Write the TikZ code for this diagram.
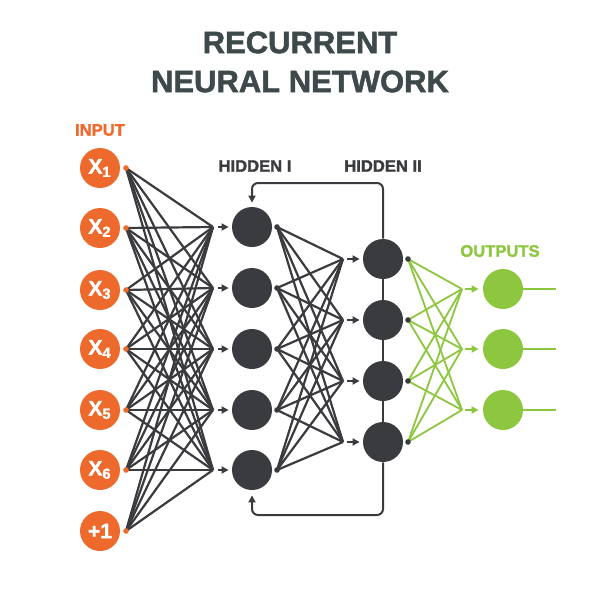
\documentclass[tikz,border=0pt]{standalone}
\usepackage{fontspec}
\setmainfont{Liberation Sans}[BoldFeatures={FakeBold=1.6}]
\usetikzlibrary{arrows.meta}
\definecolor{rnnorange}{HTML}{EE6A2C}
\definecolor{rnngreen}{HTML}{8DC63F}
\definecolor{rnndark}{HTML}{3A3B3E}
\definecolor{rnntitle}{HTML}{3E494B}
\tikzstyle{inputnode} = [circle, fill=rnnorange, minimum size=20pt, inner sep=0pt,
    text=white, font=\fontsize{10.5}{10.5}\selectfont\bfseries]
\tikzstyle{hiddennode} = [circle, fill=rnndark, minimum size=20pt, inner sep=0pt]
\tikzstyle{outputnode} = [circle, fill=rnngreen, minimum size=20pt, inner sep=0pt]
\tikzstyle{layertitle} = [font=\fontsize{8.3}{10}\selectfont\bfseries, inner sep=0pt]
\tikzstyle{wire} = [draw=rnndark, line width=1.1pt]
\tikzstyle{gwire} = [draw=rnngreen, line width=0.9pt]
\tikzstyle{feed} = [-{Triangle[length=3.5pt,width=3.5pt]}, line width=1pt]

\begin{document}
\begin{tikzpicture}[x=0.5pt, y=-0.5pt]
  \useasboundingbox (0,0) rectangle (600,600);
  \node[font=\fontsize{15.5}{19.5}\selectfont\bfseries, text=rnntitle, align=center] (title) at (300,62) {RECURRENT\\NEURAL NETWORK};
  \node[layertitle, text=rnnorange] (intitle) at (100,130) {INPUT};
  \node[layertitle, text=rnndark] (htitle1) at (255,166) {HIDDEN I};
  \node[layertitle, text=rnndark] (htitle2) at (383,166) {HIDDEN II};
  \node[layertitle, text=rnngreen] (outtitle) at (500,251) {OUTPUTS};

  \foreach \y/\t [count=\i] in {168/X\textsubscript{1}, 228/X\textsubscript{2}, 290/X\textsubscript{3},
      349/X\textsubscript{4}, 410/X\textsubscript{5}, 470/X\textsubscript{6}, 531/+1} {
    \node[inputnode] (in\i) at (100,\y) {\t};
    \coordinate (in\i-o) at (126,\y);
  }
  \foreach \y [count=\i] in {227,288,349,410,470} {
    \node[hiddennode] (h\i) at (252,\y) {};
    \coordinate (h\i-i) at (213,\y);
    \coordinate (h\i-o) at (277,\y);
  }
  \foreach \y [count=\i] in {259,320,381,442} {
    \node[hiddennode] (g\i) at (383,\y) {};
    \coordinate (g\i-i) at (343,\y);
    \coordinate (g\i-o) at (408,\y);
  }
  \foreach \y [count=\i] in {289,349,410} {
    \node[outputnode] (o\i) at (503,\y) {};
    \coordinate (o\i-i) at (462,\y);
    \coordinate (o\i-e) at (556,\y);
  }
  \coordinate (looptop) at (252,183);
  \coordinate (loopbot) at (252,515);

  \foreach \i in {1,...,7}
    \foreach \j in {1,...,5}
      \draw[wire] (in\i-o) -- (h\j-i);
  \foreach \i in {1,...,5}
    \foreach \j in {1,...,4}
      \draw[wire] (h\i-o) -- (g\j-i);
  \foreach \i in {1,...,4}
    \foreach \j in {1,...,3}
      \draw[gwire] (g\i-o) -- (o\j-i);

  \foreach \j in {1,...,5}
    \draw[wire, feed] ([xshift=2.5pt]h\j-i) -- ([xshift=-1.5pt]h\j.west);
  \foreach \j in {1,...,4}
    \draw[wire, feed] ([xshift=2pt]g\j-i) -- ([xshift=-1.5pt]g\j.west);
  \foreach \j in {1,...,3} {
    \draw[gwire, feed] ([xshift=1.5pt]o\j-i) -- ([xshift=-2pt]o\j.west);
    \draw[gwire] (o\j.east) -- (o\j-e);
  }

  \draw[wire] (g1.south) -- (g2.north);
  \draw[wire] (g2.south) -- (g3.north);
  \draw[wire] (g3.south) -- (g4.north);
  \draw[wire, feed, rounded corners=3pt] (g1.north) |- (looptop) -- ([yshift=2pt]h1.north);
  \draw[wire, feed, rounded corners=3pt] (g4.south) |- (loopbot) -- ([yshift=-2.5pt]h5.south);

  \foreach \i in {1,...,7}
    \fill[rnnorange] (in\i-o) circle (1.4pt);
  \foreach \i in {1,...,5}
    \fill[rnndark] (h\i-o) circle (1.4pt);
  \foreach \i in {1,...,4}
    \fill[rnndark] (g\i-o) circle (1.4pt);
\end{tikzpicture}
\end{document}
